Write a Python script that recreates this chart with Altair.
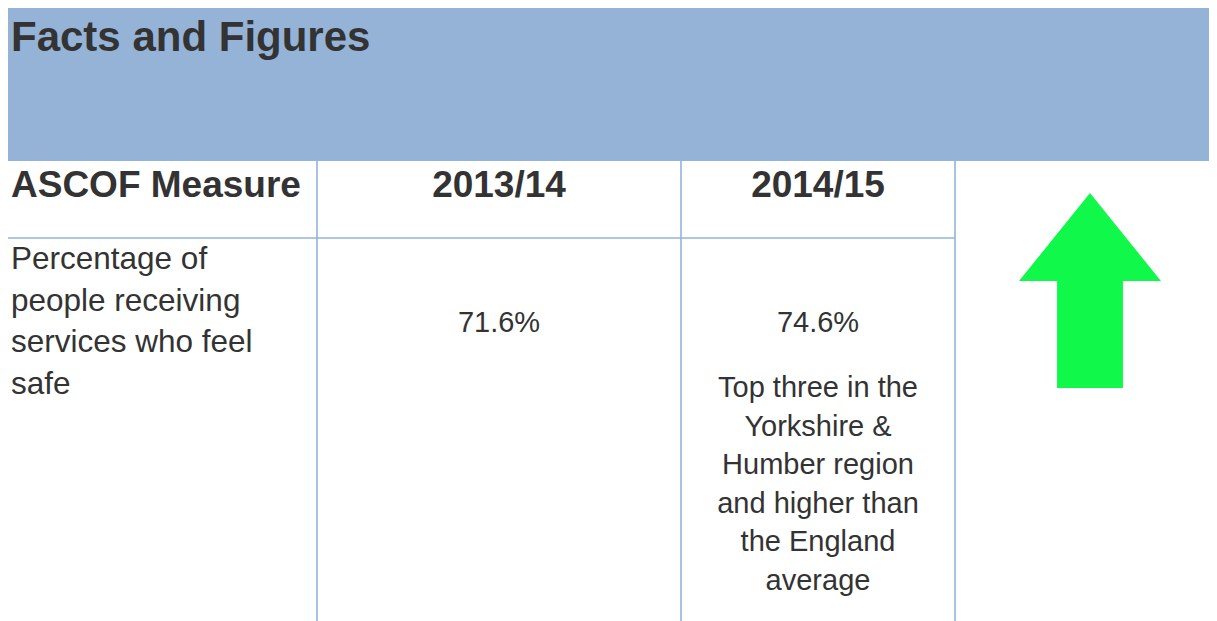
import altair as alt
import pandas as pd

# ---- content ----
TITLE = "Facts and Figures"
HEADERS = ["ASCOF Measure", "2013/14", "2014/15"]
MEASURE_LINES = ["Percentage of", "people receiving", "services who feel", "safe"]
VALUES = ["71.6%", "74.6%"]
NOTE_LINES = ["Top three in the", "Yorkshire &", "Humber region",
              "and higher than", "the England", "average"]
TREND = ["up"]

# ---- layout (page pixel coordinates) ----
W, H = 1201, 613
X0, Y0 = 8, 8
COL_EDGES = [0, 317, 681, 955, 1217]
BANNER_Y = [8, 161]
HEADER_LINE_Y = 238
BOTTOM = 621

FONT = "Arial, 'Liberation Sans', Helvetica, sans-serif"
TXT = "#333333"
BLUE = "#95B3D7"
GREEN = "#10F94A"

xs = alt.Scale(domain=[X0, X0 + W], nice=False, zero=False)
ys = alt.Scale(domain=[Y0, Y0 + H], nice=False, zero=False, reverse=True)


def X(f="x"):
    return alt.X(f"{f}:Q", scale=xs, axis=None)


def Y(f="y"):
    return alt.Y(f"{f}:Q", scale=ys, axis=None)


banner_df = pd.DataFrame({"x": [COL_EDGES[0]], "x2": [COL_EDGES[-1]],
                          "y": [BANNER_Y[0]], "y2": [BANNER_Y[1]]})
banner = alt.Chart(banner_df).mark_rect(color=BLUE, clip=True).encode(
    x=X(), x2="x2:Q", y=Y(), y2="y2:Q")

title_df = pd.DataFrame({"t": [TITLE], "x": [11], "y": [51]})
title = alt.Chart(title_df).mark_text(
    font=FONT, fontSize=42, fontWeight="bold", color=TXT,
    align="left", baseline="alphabetic").encode(x=X(), y=Y(), text="t:N")

# grid lines
vlines_df = pd.DataFrame({"x": COL_EDGES[1:4],
                          "y": [BANNER_Y[1]] * 3, "y2": [BOTTOM] * 3})
vlines = alt.Chart(vlines_df).mark_rule(color=BLUE, strokeWidth=1.6, clip=True).encode(
    x=X(), y=Y(), y2="y2:Q")
hline_df = pd.DataFrame({"x": [COL_EDGES[0]], "x2": [COL_EDGES[3]], "y": [HEADER_LINE_Y]})
hline = alt.Chart(hline_df).mark_rule(color=BLUE, strokeWidth=1.6, clip=True).encode(
    x=X(), x2="x2:Q", y=Y())

centers = [(COL_EDGES[1] + COL_EDGES[2]) / 2, (COL_EDGES[2] + COL_EDGES[3]) / 2]

head_left = alt.Chart(pd.DataFrame({"t": [HEADERS[0]], "x": [11], "y": [197]})).mark_text(
    font=FONT, fontSize=37, fontWeight="bold", color=TXT,
    align="left", baseline="alphabetic").encode(x=X(), y=Y(), text="t:N")
head_center = alt.Chart(pd.DataFrame({"t": HEADERS[1:], "x": centers, "y": [197, 197]})).mark_text(
    font=FONT, fontSize=37, fontWeight="bold", color=TXT,
    align="center", baseline="alphabetic").encode(x=X(), y=Y(), text="t:N")

measure = alt.Chart(pd.DataFrame({"t": ["\n".join(MEASURE_LINES)], "x": [11], "y": [269]})).mark_text(
    font=FONT, fontSize=31.5, color=TXT, align="left", baseline="alphabetic",
    lineBreak="\n", lineHeight=41.5).encode(x=X(), y=Y(), text="t:N")

values = alt.Chart(pd.DataFrame({"t": VALUES, "x": centers, "y": [332, 332]})).mark_text(
    font=FONT, fontSize=29, color=TXT, align="center", baseline="alphabetic").encode(
    x=X(), y=Y(), text="t:N")

note = alt.Chart(pd.DataFrame({"t": ["\n".join(NOTE_LINES)], "x": [centers[1]], "y": [397]})).mark_text(
    font=FONT, fontSize=29, color=TXT, align="center", baseline="alphabetic",
    lineBreak="\n", lineHeight=38.6).encode(x=X(), y=Y(), text="t:N")

ARROW_PATH = ("M0,-1 L0.728,-0.097 L0.338,-0.097 L0.338,1 "
              "L-0.338,1 L-0.338,-0.097 L-0.728,-0.097 Z")
arrow = alt.Chart(pd.DataFrame({"trend": TREND, "x": [1090], "y": [290.5]})).mark_point(
    shape=ARROW_PATH, filled=True, size=195 * 195, color=GREEN, opacity=1,
    strokeWidth=0).encode(x=X(), y=Y())

chart = alt.layer(banner, title, vlines, hline, head_left, head_center,
                  measure, values, note, arrow).properties(
    width=W, height=H, padding=0, autosize=alt.AutoSizeParams(type="none"),
    background="white").configure_view(stroke=None)

chart.save("out.html", embed_options={"renderer": "svg", "actions": False})
